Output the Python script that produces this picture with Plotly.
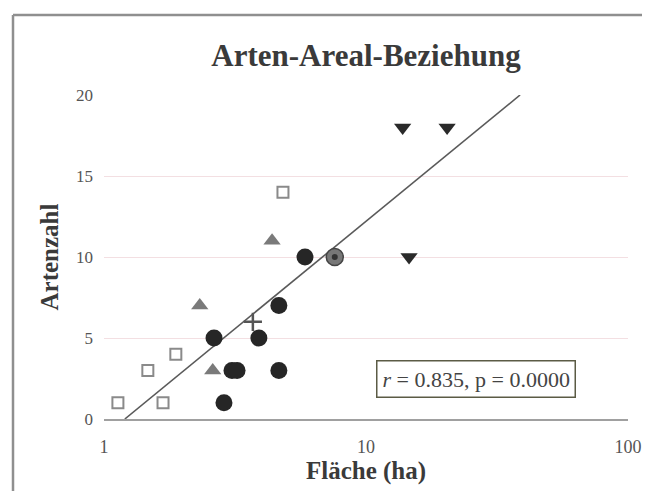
import numpy as np
import plotly.graph_objects as go

# ---- data ----
sq_x = [1.13, 1.47, 1.88, 1.68, 4.82]
sq_y = [1, 3, 4, 1, 14]
tri_x = [2.32, 2.6, 4.38]
tri_y = [7, 3, 11]
circ_x = [2.63, 2.87, 3.08, 3.22, 3.9, 4.65, 4.65, 5.85]
circ_y = [5, 1, 3, 3, 5, 7, 3, 10]
dot_x = [7.6]
dot_y = [10]
cross_x = [3.7]
cross_y = [6]
inv_x = [13.8, 20.4, 14.6]
inv_y = [18, 18, 10]

y_ticks = [0, 5, 10, 15, 20]
x_ticks = [1, 10, 100]
stat_text = "<i>r</i> = 0.835, p = 0.0000"

# regression of y on log10(x)
all_x = np.array(sq_x + tri_x + circ_x + dot_x + cross_x + inv_x)
all_y = np.array(sq_y + tri_y + circ_y + dot_y + cross_y + inv_y)
b, a = np.polyfit(np.log10(all_x), all_y, 1)
fit_y = np.array([0, 20])
fit_x = 10 ** ((fit_y - a) / b)

serif = "Liberation Serif, Times New Roman, serif"

fig = go.Figure()
fig.add_trace(go.Scatter(x=fit_x, y=fit_y, mode="lines",
                         line=dict(color="#5a5a5a", width=1.6), hoverinfo="skip"))
fig.add_trace(go.Scatter(x=sq_x, y=sq_y, mode="markers",
                         marker=dict(symbol="square-open", size=11, color="#8a8a8a",
                                     line=dict(width=2, color="#8a8a8a"))))
fig.add_trace(go.Scatter(x=tri_x, y=tri_y, mode="markers",
                         marker=dict(symbol="triangle-up", size=15, color="#7a7a7a")))
fig.add_trace(go.Scatter(x=circ_x, y=circ_y, mode="markers",
                         marker=dict(symbol="circle", size=17, color="#262626")))
fig.add_trace(go.Scatter(x=dot_x, y=dot_y, mode="markers",
                         marker=dict(symbol="circle", size=17, color="#777777",
                                     line=dict(width=1.5, color="#444444"))))
fig.add_trace(go.Scatter(x=dot_x, y=dot_y, mode="markers",
                         marker=dict(symbol="circle", size=6, color="#333333")))
fig.add_trace(go.Scatter(x=cross_x, y=cross_y, mode="markers",
                         marker=dict(symbol="cross-thin-open", size=13, color="#555555",
                                     line=dict(width=2.5, color="#555555"))))
fig.add_trace(go.Scatter(x=inv_x, y=inv_y, mode="markers",
                         marker=dict(symbol="triangle-down", size=15, color="#2a2a2a")))

# page body has an 8px default margin: figure is sized/placed to compensate
fig.update_layout(
    width=634, height=483,
    margin=dict(l=96, r=14, t=87, b=72, autoexpand=False),
    paper_bgcolor="white", plot_bgcolor="white",
    showlegend=False,
    title=dict(text="<b>Arten-Areal-Beziehung</b>", x=0.5, xref="paper",
               y=1 - 47 / 483, yanchor="middle",
               font=dict(family=serif, size=31, color="#3a3a3a")),
    font=dict(family=serif, color="#555555"),
)
fig.update_xaxes(type="log", range=[0, 2], tickvals=x_ticks, ticktext=[str(v) for v in x_ticks],
                 showgrid=False, showline=True, linecolor="#a0a0a0", linewidth=1.5,
                 zeroline=False, ticks="", ticklabelstandoff=11, automargin=False,
                 tickfont=dict(family=serif, size=18, color="#555555"),
                 title=dict(text="<b>Fläche (ha)</b>", standoff=2,
                            font=dict(family=serif, size=25, color="#3a3a3a")))
fig.update_yaxes(range=[0, 20], tickvals=y_ticks, showgrid=True, gridcolor="#f3dfe2",
                 gridwidth=1.2, showline=False, zeroline=False, ticks="",
                 ticklabelstandoff=10, automargin=False,
                 tickfont=dict(family=serif, size=17, color="#555555"),
                 title=dict(text="<b>Artenzahl</b>", standoff=10,
                            font=dict(family=serif, size=25, color="#3a3a3a")))

fig.add_annotation(x=np.log10(26.3), y=2.5, xref="x", yref="y", text=stat_text,
                   showarrow=False, font=dict(family=serif, size=22, color="#444444"),
                   bordercolor="#5b5b45", borderwidth=1.5, borderpad=5, bgcolor="white")

# outer frame of the scanned chart (left and top edges only; plot area is 524 x 324 px)
frame_left = (5 - 96) / 524
frame_top = (411 - 7) / 324
fig.add_shape(type="line", xref="paper", yref="paper",
              x0=frame_left, x1=frame_left, y0=(411 - 520) / 324, y1=frame_top,
              line=dict(color="#8f8f8f", width=2.5), layer="below")
fig.add_shape(type="line", xref="paper", yref="paper",
              x0=frame_left, x1=(700 - 96) / 524, y0=frame_top, y1=frame_top,
              line=dict(color="#8f8f8f", width=2.5), layer="below")

fig.write_html("out.html")
